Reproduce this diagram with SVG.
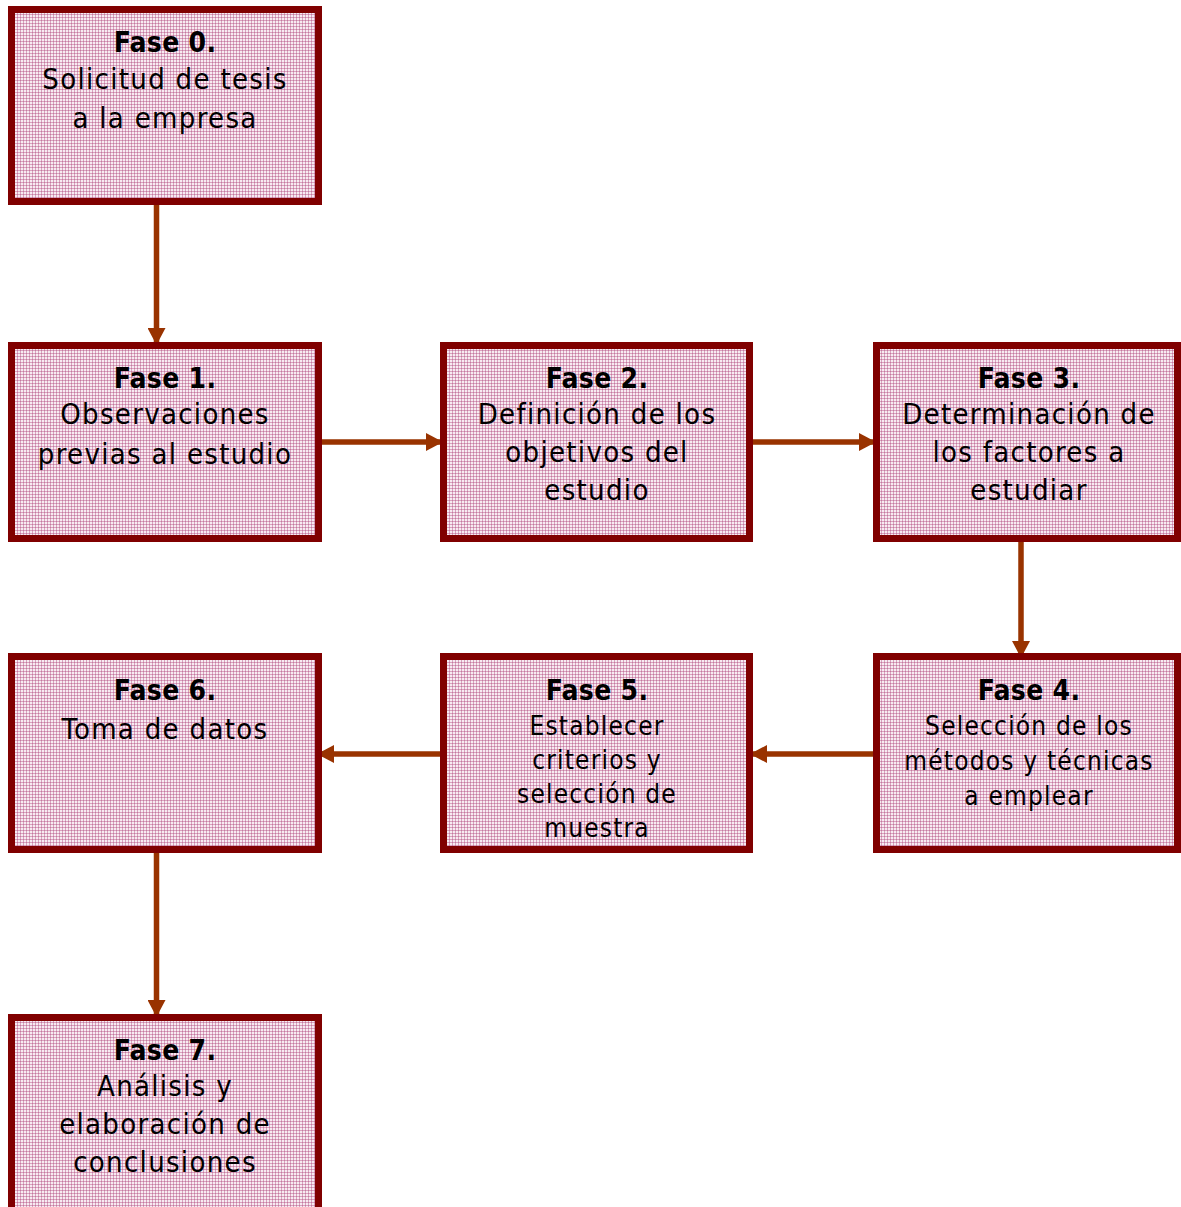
<svg xmlns="http://www.w3.org/2000/svg" width="1181" height="1207" viewBox="0 0 1181 1207">
  <defs>
    <!-- fine pink grid fill used inside every phase box -->
    <pattern id="grid" width="3" height="3" patternUnits="userSpaceOnUse">
      <rect width="3" height="3" fill="#f7ebf1"/>
      <rect x="0" y="2" width="3" height="1" fill="#d9a2bf"/>
      <rect x="2" y="0" width="1" height="3" fill="#d9a2bf"/>
      <rect x="2" y="2" width="1" height="1" fill="#c47a9e"/>
    </pattern>
    <marker id="head" markerUnits="userSpaceOnUse" markerWidth="18" markerHeight="18" refX="16" refY="9" orient="auto">
      <path d="M0,0 L17,9 L0,18 Z" fill="#993300"/>
    </marker>
  </defs>
  <style>
    .box { fill: url(#grid); stroke: #800000; stroke-width: 7; }
    .conn { stroke: #993300; stroke-width: 5.5; fill: none; marker-end: url(#head); }
    text { font-family: "DejaVu Sans Condensed", "DejaVu Sans", sans-serif; font-stretch: condensed; fill: #000; text-anchor: middle; }
    .t { font-weight: bold; font-size: 28px; letter-spacing: 0.3px; }
    .b { font-size: 29px; letter-spacing: 1.3px; }
    .s { font-size: 26px; letter-spacing: 1.2px; }
  </style>

  <rect width="1181" height="1207" fill="#ffffff"/>

  <g id="connectors">
    <line class="conn" x1="156.5" y1="205" x2="156.5" y2="344"/>
    <line class="conn" x1="322" y1="442" x2="442" y2="442"/>
    <line class="conn" x1="753" y1="442" x2="875" y2="442"/>
    <line class="conn" x1="1021" y1="542" x2="1021" y2="657"/>
    <line class="conn" x1="873" y1="754" x2="751" y2="754"/>
    <line class="conn" x1="440" y1="754" x2="318" y2="754"/>
    <line class="conn" x1="156.5" y1="853" x2="156.5" y2="1016"/>
  </g>

  <g id="fase0">
    <rect class="box" x="11.5" y="9.5" width="307" height="192"/>
    <text class="t" x="165" y="52">Fase 0.</text>
    <text class="b" x="165" y="89">Solicitud de tesis</text>
    <text class="b" x="165" y="128">a la empresa</text>
  </g>

  <g id="fase1">
    <rect class="box" x="11.5" y="345.5" width="307" height="193"/>
    <text class="t" x="165" y="388">Fase 1.</text>
    <text class="b" x="165" y="424">Observaciones</text>
    <text class="b" x="165" y="464">previas al estudio</text>
  </g>

  <g id="fase2">
    <rect class="box" x="443.5" y="345.5" width="306" height="193"/>
    <text class="t" x="597" y="388">Fase 2.</text>
    <text class="b" x="597" y="424">Definición de los</text>
    <text class="b" x="597" y="462">objetivos del</text>
    <text class="b" x="597" y="500">estudio</text>
  </g>

  <g id="fase3">
    <rect class="box" x="876.5" y="345.5" width="301" height="193"/>
    <text class="t" x="1029" y="388">Fase 3.</text>
    <text class="b" x="1029" y="424">Determinación de</text>
    <text class="b" x="1029" y="462">los factores a</text>
    <text class="b" x="1029" y="500">estudiar</text>
  </g>

  <g id="fase4">
    <rect class="box" x="876.5" y="656.5" width="301" height="193"/>
    <text class="t" x="1029" y="700">Fase 4.</text>
    <text class="s" x="1029" y="735">Selección de los</text>
    <text class="s" x="1029" y="770">métodos y técnicas</text>
    <text class="s" x="1029" y="805">a emplear</text>
  </g>

  <g id="fase5">
    <rect class="box" x="443.5" y="656.5" width="306" height="193"/>
    <text class="t" x="597" y="700">Fase 5.</text>
    <text class="s" x="597" y="735">Establecer</text>
    <text class="s" x="597" y="769">criterios y</text>
    <text class="s" x="597" y="803">selección de</text>
    <text class="s" x="597" y="837">muestra</text>
  </g>

  <g id="fase6">
    <rect class="box" x="11.5" y="656.5" width="307" height="193"/>
    <text class="t" x="165" y="700">Fase 6.</text>
    <text class="b" x="165" y="739">Toma de datos</text>
  </g>

  <g id="fase7">
    <rect class="box" x="11.5" y="1017.5" width="307" height="250"/>
    <text class="t" x="165" y="1060">Fase 7.</text>
    <text class="b" x="165" y="1096">Análisis y</text>
    <text class="b" x="165" y="1134">elaboración de</text>
    <text class="b" x="165" y="1172">conclusiones</text>
  </g>
</svg>
